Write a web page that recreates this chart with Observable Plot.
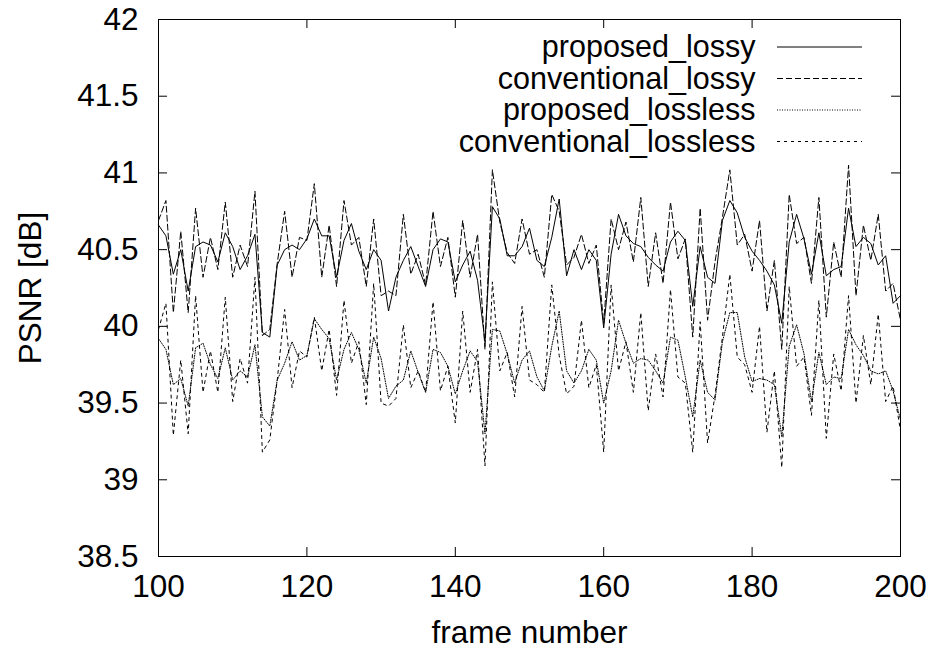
<!DOCTYPE html>
<html><head><meta charset="utf-8">
<script src="https://cdn.jsdelivr.net/npm/d3@7"></script>
<script src="https://cdn.jsdelivr.net/npm/@observablehq/plot@0.6"></script>
<style>body{margin:0;background:#fff}</style>
</head><body><div id="chart"></div>
<script>
const frames = d3.range(100, 201);
const seriesNames = ["proposed_lossy", "conventional_lossy", "proposed_lossless", "conventional_lossless"];
const xTicks = [100, 120, 140, 160, 180, 200];
const xTickLabels = ["100", "120", "140", "160", "180", "200"];
const yTicks = [38.5, 39, 39.5, 40, 40.5, 41, 41.5, 42];
const yTickLabels = ["38.5", "39", "39.5", "40", "40.5", "41", "41.5", "42"];
const xLabel = "frame number";
const yLabel = "PSNR [dB]";

const proposedLossy = [
40.66,40.59,40.34,40.50,40.23,40.52,40.55,40.53,40.42,40.61,
40.52,40.37,40.46,40.60,39.96,39.93,40.40,40.50,40.53,40.50,
40.57,40.70,40.59,40.59,40.32,40.56,40.67,40.49,40.37,40.50,
40.43,40.10,40.32,40.43,40.52,40.39,40.26,40.50,40.57,40.55,
40.29,40.40,40.49,40.30,39.90,40.78,40.70,40.46,40.46,40.52,
40.64,40.43,40.39,40.58,40.83,40.33,40.50,40.37,40.50,40.43,
39.99,40.47,40.73,40.59,40.54,40.52,40.45,40.40,40.36,40.55,
40.62,40.56,40.13,40.52,40.32,40.28,40.69,40.82,40.74,40.58,
40.49,40.43,40.36,40.27,40.02,40.55,40.73,40.57,40.34,40.61,
40.33,40.37,40.39,40.77,40.52,40.58,40.54,40.40,40.46,40.15,
40.20];
const conventionalLossy = [
40.69,40.82,40.09,40.62,40.09,40.77,40.32,40.58,40.37,40.81,
40.32,40.53,40.39,40.88,39.94,39.98,40.41,40.75,40.32,40.58,
40.56,40.93,40.32,40.66,40.26,40.82,40.53,40.58,40.26,40.70,
40.20,40.23,40.20,40.73,40.34,40.47,40.27,40.75,40.39,40.58,
40.19,40.69,40.32,40.60,39.85,41.02,40.68,40.48,40.41,40.70,
40.47,40.50,40.32,40.86,40.75,40.40,40.45,40.60,40.41,40.53,
40.02,40.70,40.50,40.68,40.42,40.84,40.26,40.61,40.28,40.81,
40.44,40.57,39.93,40.77,40.04,40.42,40.71,41.02,40.53,40.60,
40.36,40.69,40.10,40.43,39.85,40.86,40.54,40.58,40.28,40.84,
40.06,40.55,40.32,41.05,40.20,40.66,40.43,40.73,40.23,40.28,
40.04];
const proposedLossless = [
39.92,39.85,39.62,39.66,39.48,39.86,39.89,39.75,39.66,39.86,
39.65,39.71,39.67,39.88,39.41,39.35,39.65,39.76,39.90,39.78,
39.81,40.05,39.98,39.92,39.65,39.85,39.96,39.85,39.63,39.93,
39.79,39.53,39.61,39.65,39.84,39.70,39.57,39.85,39.83,39.74,
39.56,39.71,39.84,39.77,39.30,39.98,39.97,39.82,39.63,39.78,
39.84,39.67,39.58,39.87,40.10,39.71,39.63,39.71,39.85,39.78,
39.50,39.71,40.04,39.89,39.76,39.79,39.78,39.71,39.63,39.93,
39.91,39.67,39.41,39.78,39.57,39.52,39.90,40.09,40.09,39.80,
39.64,39.66,39.65,39.62,39.28,39.87,40.01,39.82,39.51,39.83,
39.62,39.67,39.66,39.98,39.88,39.81,39.71,39.69,39.71,39.58,
39.39];
const conventionalLossless = [
39.98,40.15,39.29,39.78,39.30,40.20,39.57,39.84,39.57,40.19,
39.51,39.79,39.63,40.32,39.18,39.26,39.65,40.11,39.60,39.84,
39.80,40.06,39.71,39.98,39.55,40.17,39.76,39.90,39.49,40.28,
39.50,39.48,39.53,40.01,39.60,39.71,39.57,40.16,39.58,39.74,
39.37,40.10,39.57,39.85,39.09,40.29,39.71,39.83,39.54,40.13,
39.65,39.62,39.57,40.27,39.81,39.56,39.61,40.04,39.60,39.75,
39.18,40.27,39.71,39.90,39.57,40.09,39.45,39.82,39.54,40.24,
39.67,39.63,39.18,40.03,39.24,39.55,39.93,40.34,39.80,39.75,
39.57,40.00,39.31,39.71,39.08,40.26,39.74,39.80,39.42,40.17,
39.27,39.82,39.58,40.20,39.50,39.94,39.62,40.08,39.51,39.61,
39.32];

// layout / style
const W = 931, H = 657;
const mL = 158, mR = 31, mT = 19, mB = 101;
const plotW = W - mL - mR, plotH = H - mT - mB;
const FONT = '"Liberation Sans", Arial, Helvetica, sans-serif';
const FS = 31.5;
const LFS = 30.5;
const TICK = 9;
const dashes = [null, "6,3", "1,1.5", "3,4"];

const table = frames.map((f, i) => ({
  frame: f,
  s0: proposedLossy[i], s1: conventionalLossy[i],
  s2: proposedLossless[i], s3: conventionalLossless[i]
}));

const lineMarks = seriesNames.map((n, k) =>
  Plot.line(table, {x: "frame", y: "s" + k, stroke: "#000", strokeWidth: 1,
    strokeDasharray: dashes[k] || undefined})
);

const chart = Plot.plot({
  width: W, height: H,
  marginLeft: mL, marginRight: mR, marginTop: mT, marginBottom: mB,
  style: {fontFamily: FONT, fontSize: FS + "px", color: "#000", background: "#fff"},
  x: {domain: [100, 200]},
  y: {domain: [38.5, 42]},
  marks: [
    ...lineMarks,
    Plot.frame({stroke: "#000", strokeWidth: 1}),
    Plot.tickX(xTicks, {x: d => d, insetTop: plotH - TICK, stroke: "#000"}),
    Plot.tickX(xTicks, {x: d => d, insetBottom: plotH - TICK, stroke: "#000"}),
    Plot.tickY(yTicks, {y: d => d, insetRight: plotW - TICK, stroke: "#000"}),
    Plot.tickY(yTicks, {y: d => d, insetLeft: plotW - TICK, stroke: "#000"}),
    Plot.axisX({ticks: xTicks, tickSize: 0, tickPadding: 18, fontSize: FS, label: null,
      tickFormat: d => xTickLabels[xTicks.indexOf(d)]}),
    Plot.axisY({ticks: yTicks, tickSize: 0, tickPadding: 20, fontSize: FS, label: null,
      tickFormat: d => yTickLabels[yTicks.indexOf(d)]}),
    Plot.text([xLabel], {text: d => d, frameAnchor: "bottom", dy: 76, textAnchor: "middle", lineAnchor: "middle", fontSize: FS}),
    Plot.text([yLabel], {text: d => d, frameAnchor: "left", dx: -128, rotate: -90, textAnchor: "middle", lineAnchor: "middle", fontSize: FS}),
    ...seriesNames.map((n, k) => Plot.text([n], {text: d => d, frameAnchor: "top-right",
      dx: -145, dy: 28 + 31.5 * k, textAnchor: "end", lineAnchor: "middle", fontSize: LFS}))
  ]
});

// legend sample lines (drawn inside the plot frame, top-right)
const svg = d3.select(chart);
const lg = svg.append("g").attr("class", "legend-lines");
seriesNames.forEach((n, k) => {
  const y = mT + 28 + 31.5 * k;
  lg.append("line")
    .attr("x1", W - mR - 123).attr("x2", W - mR - 38)
    .attr("y1", y).attr("y2", y)
    .attr("stroke", "#000").attr("stroke-width", 1)
    .attr("stroke-dasharray", dashes[k]);
});

document.getElementById("chart").appendChild(chart);
</script>
</body></html>
